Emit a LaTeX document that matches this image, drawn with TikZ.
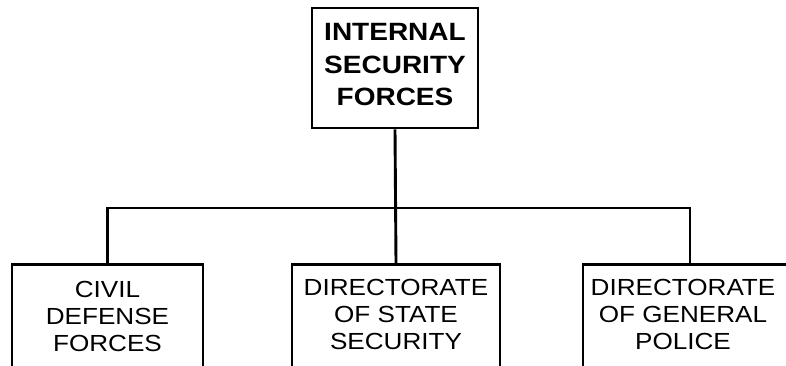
\documentclass[tikz,border=0pt]{standalone}
\usepackage{fontspec}
\setmainfont{Liberation Sans}[FakeStretch=1.12]
\begin{document}
\begin{tikzpicture}[x=1pt,y=-1pt,
  line width=2.9pt,
  topbox/.style={draw, rectangle, minimum width=166pt, minimum height=120pt, inner sep=0pt},
  lowbox/.style={draw, rectangle, anchor=north, minimum height=140pt, inner sep=0pt},
  toptext/.style={anchor=north, align=center, inner sep=0pt, font=\fontsize{25}{32.5}\selectfont\bfseries},
  lowtext/.style={anchor=north, align=center, inner sep=0pt, font=\fontsize{23.3}{27}\selectfont}]
\useasboundingbox (0,0) rectangle (786,366);
\clip (0,0) rectangle (786,366);
\node[topbox] (isf) at (395,68) {};
\node[toptext] (isft) at (395,22) {INTERNAL\\SECURITY\\FORCES};
\node[lowbox, minimum width=191pt] (civ) at (107.5,263) {};
\node[lowbox, minimum width=208pt] (sss) at (396,263) {};
\node[lowbox, minimum width=214pt] (pol) at (690,263) {};
\node[lowtext] (civt) at (107.5,280) {CIVIL\\DEFENSE\\FORCES};
\node[lowtext] (ssst) at (396,278) {DIRECTORATE\\OF STATE\\SECURITY};
\node[lowtext] (polt) at (683,278) {DIRECTORATE\\OF GENERAL\\POLICE};
\coordinate (bus) at (396,208);
\draw (isf.south) -- (sss.north);
\draw (civ.north) |- (bus) -| (pol.north);
\end{tikzpicture}
\end{document}
